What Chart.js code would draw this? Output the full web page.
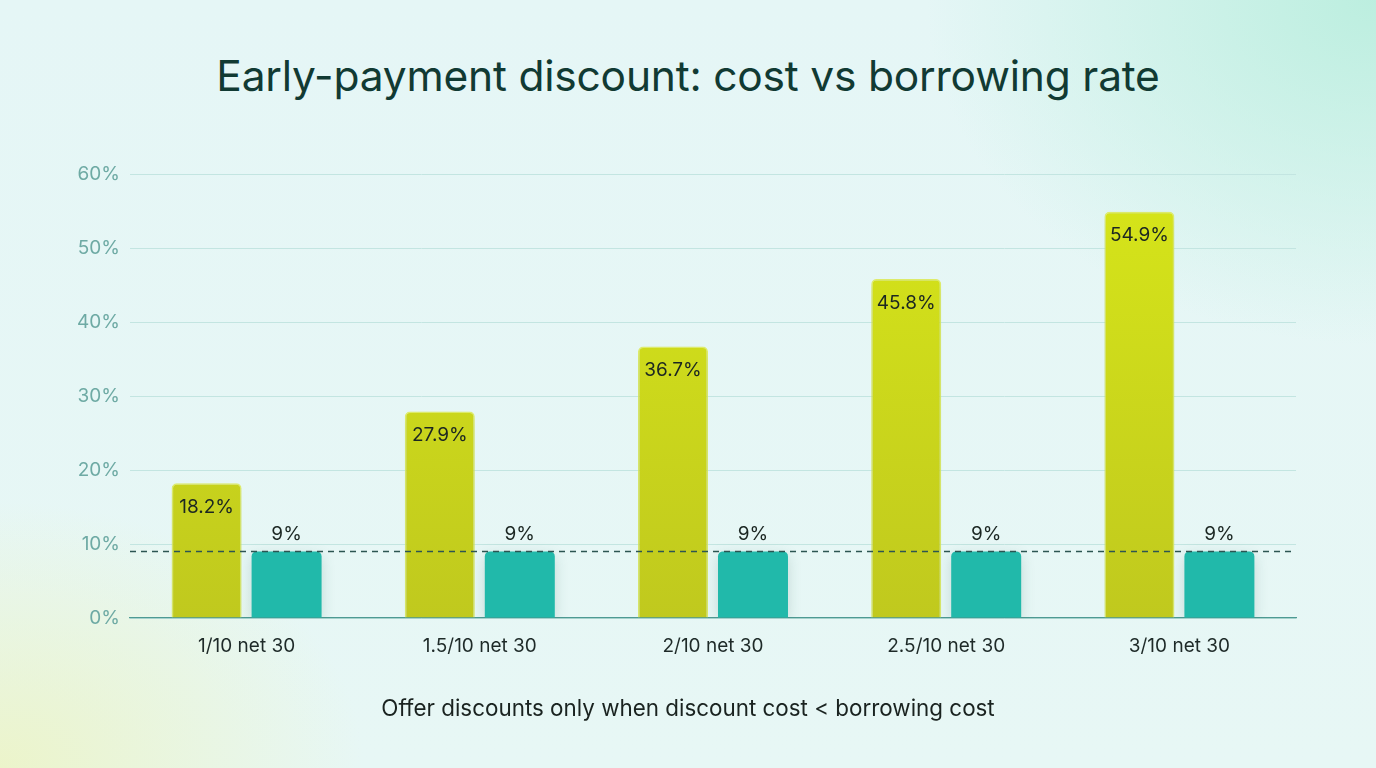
<!DOCTYPE html>
<html>
<head>
<meta charset="utf-8">
<script src="https://cdn.jsdelivr.net/npm/chart.js@4.4.1/dist/chart.umd.min.js"></script>
<style>
  html, body { margin: 0; padding: 0; width: 1376px; height: 768px; overflow: hidden; }
  body {
    font-family: Inter, "Noto Sans", sans-serif;
    background:
      radial-gradient(ellipse 520px 380px at 0% 100%, rgba(236,244,200,0.95), rgba(236,244,200,0) 70%),
      radial-gradient(ellipse 600px 460px at 100% 0%, rgba(186,238,222,0.95), rgba(186,238,222,0) 75%),
      linear-gradient(180deg, #e5f6f6 0%, #e7f7f5 100%);
    position: relative;
  }
  #title {
    position: absolute; left: 0; top: 50px; width: 100%; text-align: center;
    font-size: 42.5px; font-weight: 400; color: #113a33; letter-spacing: -0.2px;
    margin: 0; line-height: 1.2;
  }
  #subtitle {
    position: absolute; left: 0; top: 694px; width: 100%; text-align: center;
    font-size: 22.4px; color: #1a2320; margin: 0;
  }
  #wrap { position: absolute; left: 0; top: 0; width: 1376px; height: 768px; }
</style>
</head>
<body>
<h1 id="title">Early-payment discount: cost vs borrowing rate</h1>
<div id="wrap"><canvas id="c" width="1376" height="768"></canvas></div>
<p id="subtitle">Offer discounts only when discount cost &lt; borrowing cost</p>
<script>
const categories = ["1/10 net 30", "1.5/10 net 30", "2/10 net 30", "2.5/10 net 30", "3/10 net 30"];
const discountCost = [18.2, 27.9, 36.7, 45.8, 54.9];
const borrowingCost = [9, 9, 9, 9, 9];
const borrowingRate = 9;
const yTicks = [0, 10, 20, 30, 40, 50, 60];

const ctxEl = document.getElementById('c');

function greenGradient(context) {
  const chart = context.chart;
  const area = chart.chartArea;
  if (!area) return '#cddc1c';
  const g = chart.ctx.createLinearGradient(0, area.top, 0, area.bottom);
  g.addColorStop(0, '#d7e619');
  g.addColorStop(1, '#c0c91e');
  return g;
}

const shadowPlugin = {
  id: 'barShadow',
  beforeDatasetDraw(chart, args) {
    const c = chart.ctx;
    c.save();
    c.shadowColor = 'rgba(40,90,80,0.18)';
    c.shadowBlur = 14;
    c.shadowOffsetY = 4;
  },
  afterDatasetDraw(chart, args) {
    chart.ctx.restore();
  }
};

const refLinePlugin = {
  id: 'refLine',
  afterDatasetsDraw(chart) {
    const c = chart.ctx;
    const y = chart.scales.y.getPixelForValue(borrowingRate);
    const { left, right } = chart.chartArea;
    c.save();
    c.strokeStyle = '#2c5552';
    c.lineWidth = 1.5;
    c.setLineDash([6, 5]);
    c.beginPath();
    c.moveTo(left, y);
    c.lineTo(right, y);
    c.stroke();
    c.restore();
  }
};

const labelPlugin = {
  id: 'valueLabels',
  afterDraw(chart) {
    const c = chart.ctx;
    c.save();
    c.font = '19px Inter, "Noto Sans", sans-serif';
    c.fillStyle = '#1b2622';
    c.textAlign = 'center';
    c.textBaseline = 'middle';
    const m0 = chart.getDatasetMeta(0);
    m0.data.forEach((bar, i) => {
      c.fillText(discountCost[i].toFixed(1) + '%', bar.x, bar.y + 24);
    });
    const m1 = chart.getDatasetMeta(1);
    m1.data.forEach((bar, i) => {
      c.fillText(borrowingCost[i] + '%', bar.x, bar.y - 17);
    });
    c.restore();
  }
};

new Chart(ctxEl, {
  type: 'bar',
  data: {
    labels: categories,
    datasets: [
      {
        label: 'Discount cost',
        data: discountCost,
        backgroundColor: greenGradient,
        borderColor: 'rgba(228,240,92,0.9)',
        borderWidth: 1.5,
        borderSkipped: 'bottom',
        borderRadius: { topLeft: 5, topRight: 5, bottomLeft: 0, bottomRight: 0 },
        categoryPercentage: 0.686,
        barPercentage: 0.875
      },
      {
        label: 'Borrowing cost',
        data: borrowingCost,
        backgroundColor: '#21b9aa',
        borderWidth: 0,
        borderRadius: { topLeft: 5, topRight: 5, bottomLeft: 0, bottomRight: 0 },
        categoryPercentage: 0.686,
        barPercentage: 0.875
      }
    ]
  },
  options: {
    responsive: false,
    animation: false,
    devicePixelRatio: 1,
    layout: { padding: { top: 174, right: 80, bottom: 92, left: 0 } },
    plugins: {
      legend: { display: false },
      tooltip: { enabled: false },
      title: { display: false }
    },
    scales: {
      x: {
        grid: { display: false, drawTicks: false },
        border: { display: true, color: '#4e9a93', width: 1.2 },
        ticks: {
          color: '#1e2a28',
          font: { family: 'Inter, "Noto Sans", sans-serif', size: 19 },
          padding: 17
        },
        afterFit(scale) { scale.height = 58; }
      },
      y: {
        min: 0,
        max: 60,
        afterBuildTicks(scale) { scale.ticks = yTicks.map(v => ({ value: v })); },
        grid: { color: '#c3e5e1', lineWidth: 1, drawTicks: false },
        border: { display: false },
        ticks: {
          color: '#6eaaa4',
          font: { family: 'Inter, "Noto Sans", sans-serif', size: 19 },
          padding: 10,
          callback: v => v + '%'
        },
        afterFit(scale) { scale.width = 130; }
      }
    }
  },
  plugins: [shadowPlugin, refLinePlugin, labelPlugin]
});
</script>
</body>
</html>
